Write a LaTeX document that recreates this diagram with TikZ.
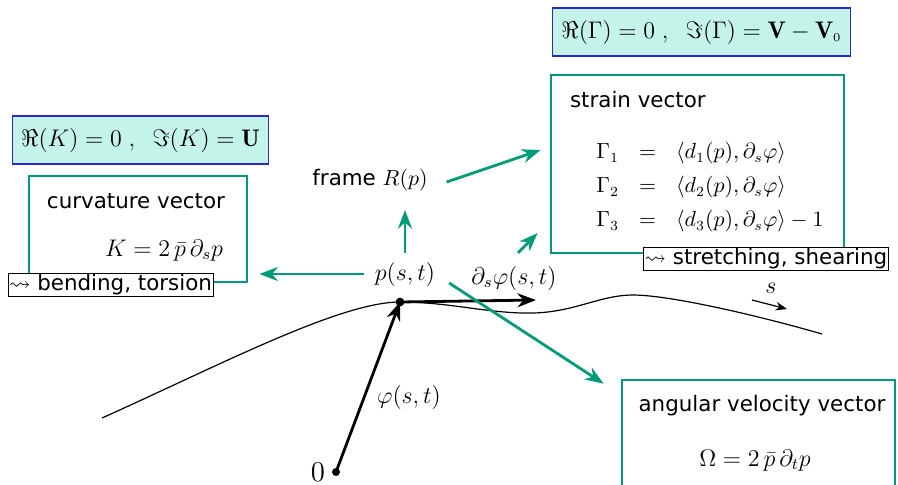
\documentclass[tikz,border=0pt]{standalone}
\usepackage{amsmath}
\usepackage{amssymb}
\usepackage{fontspec}
\newfontfamily\labelfont{DejaVu Sans}
\usetikzlibrary{arrows.meta,calc,positioning}
\definecolor{vecgreen}{RGB}{0,155,120}
\definecolor{formfill}{RGB}{196,243,232}
\definecolor{formline}{RGB}{40,40,220}

\begin{document}
\begin{tikzpicture}[
    x=0.5pt, y=-0.5pt,
    >=Stealth,
    vecbox/.style  = {draw=vecgreen, line width=1.4pt, inner sep=0pt},
    formbox/.style = {draw=formline, fill=formfill, semithick,
                      inner xsep=4.5pt, minimum height=24pt,
                      font=\fontsize{12}{14}\selectfont},
    tag/.style     = {draw, fill=white, thin, inner xsep=0.5pt, inner ysep=0pt,
                      minimum height=11.5pt,
                      font=\labelfont\fontsize{10.7}{12}\selectfont},
    title/.style   = {font=\labelfont\fontsize{10.7}{12}\selectfont},
    sym/.style     = {font=\fontsize{11.5}{17}\selectfont},
    eqs/.style     = {font=\fontsize{10.5}{17}\selectfont},
    link/.style    = {vecgreen, line width=1.4pt, ->},
    vec/.style     = {line width=1.4pt, ->}
  ]
  \useasboundingbox (0,0) rectangle (898,484);

  %–––– the curve ––––
  \draw[semithick] (102,418) .. controls (220,365) and (340,302) .. (400,302)
      .. controls (450,302) and (490,314) .. (533,313)
      .. controls (575,312) and (600,295) .. (633,295)
      .. controls (670,295) and (760,316) .. (822,334);
  \node[sym, font=\fontsize{13}{15}\selectfont] (s) at (771,288) {$s$};
  \coordinate (sa) at (752,300);
  \coordinate (sb) at (787,309);
  \draw[semithick,->] (sa) -- (sb);

  %–––– position and tangent ––––
  \fill (336,472) circle (2pt) coordinate (O);
  \fill (400,302) circle (2.2pt) coordinate (P);
  \coordinate (T) at (536,300);
  \node[sym, inner sep=0pt, font=\fontsize{14}{16}\selectfont] (zero) at (318,472) {$0$};
  \draw[vec] (O) -- (P);
  \draw[vec] (P) -- (T);
  \node[sym] (phi)  at (409,397) {$\varphi(s,t)$};
  \node[sym] (p)    at (405,274) {$p(s,t)$};
  \node[sym] (dphi) at (514,278) {$\partial_s\varphi(s,t)$};
  \node[title] (frame) at (370,180) {frame $R(p)$};

  %–––– boxes ––––
  \node[vecbox, minimum width=109pt, minimum height=53pt] (curv) at (138,229) {};
  \node[vecbox, minimum width=146.5pt, minimum height=89pt] (strain) at (697.5,164) {};
  \node[vecbox, minimum width=136.5pt, minimum height=60pt] (angvel) at (758.5,440) {};

  \node[title] (curvT) at (136,201) {curvature vector};
  \node[sym]   (curvK) at (164,250) {$K = 2\,\bar{p}\,\partial_s p$};

  \node[title, anchor=west] (strainT) at (563,100) {strain vector};
  \node[eqs] (strainG) at (710,186) {$\begin{array}{rcl}
      \Gamma_1 & = & \langle d_1(p),\partial_s\varphi\rangle\\
      \Gamma_2 & = & \langle d_2(p),\partial_s\varphi\rangle\\
      \Gamma_3 & = & \langle d_3(p),\partial_s\varphi\rangle-1
    \end{array}$};

  \node[title] (angT) at (762,406) {angular velocity vector};
  \node[sym]   (angW) at (755,460) {$\Omega = 2\,\bar{p}\,\partial_t p$};

  \node[tag] (bend)    at (110.5,284.5) {$\leadsto$ bending, torsion};
  \node[tag] (stretch) at (766,259) {$\leadsto$ stretching, shearing};

  \node[formbox] (formK) at (140.5,140)
      {$\Re(K)=0\;,\;\;\Im(K)=\mathbf{U}$};
  \node[formbox] (formG) at (701.5,32)
      {$\Re(\Gamma)=0\;,\;\;\Im(\Gamma)=\mathbf{V}-\mathbf{V}_{\scriptscriptstyle 0}$};

  %–––– green links ––––
  \draw[link, shorten <=2pt, shorten >=5.5pt] (p.west) -- (curv.east |- p.west);
  \draw[link, shorten <=1pt, shorten >=6pt] (p.north) -- (p.north |- frame.south);
  \draw[link] ($(frame.east)+(12,2)$) -- ($(strain.west)+(-9,-14)$);
  \draw[link] ($(dphi.north)+(4,-6)$) -- ($(strain.west)+(-12,69)$);
  \draw[link] ($(p.east)+(7,9)$) -- ($(angvel.north west)+(-17,5)$);

\end{tikzpicture}
\end{document}
